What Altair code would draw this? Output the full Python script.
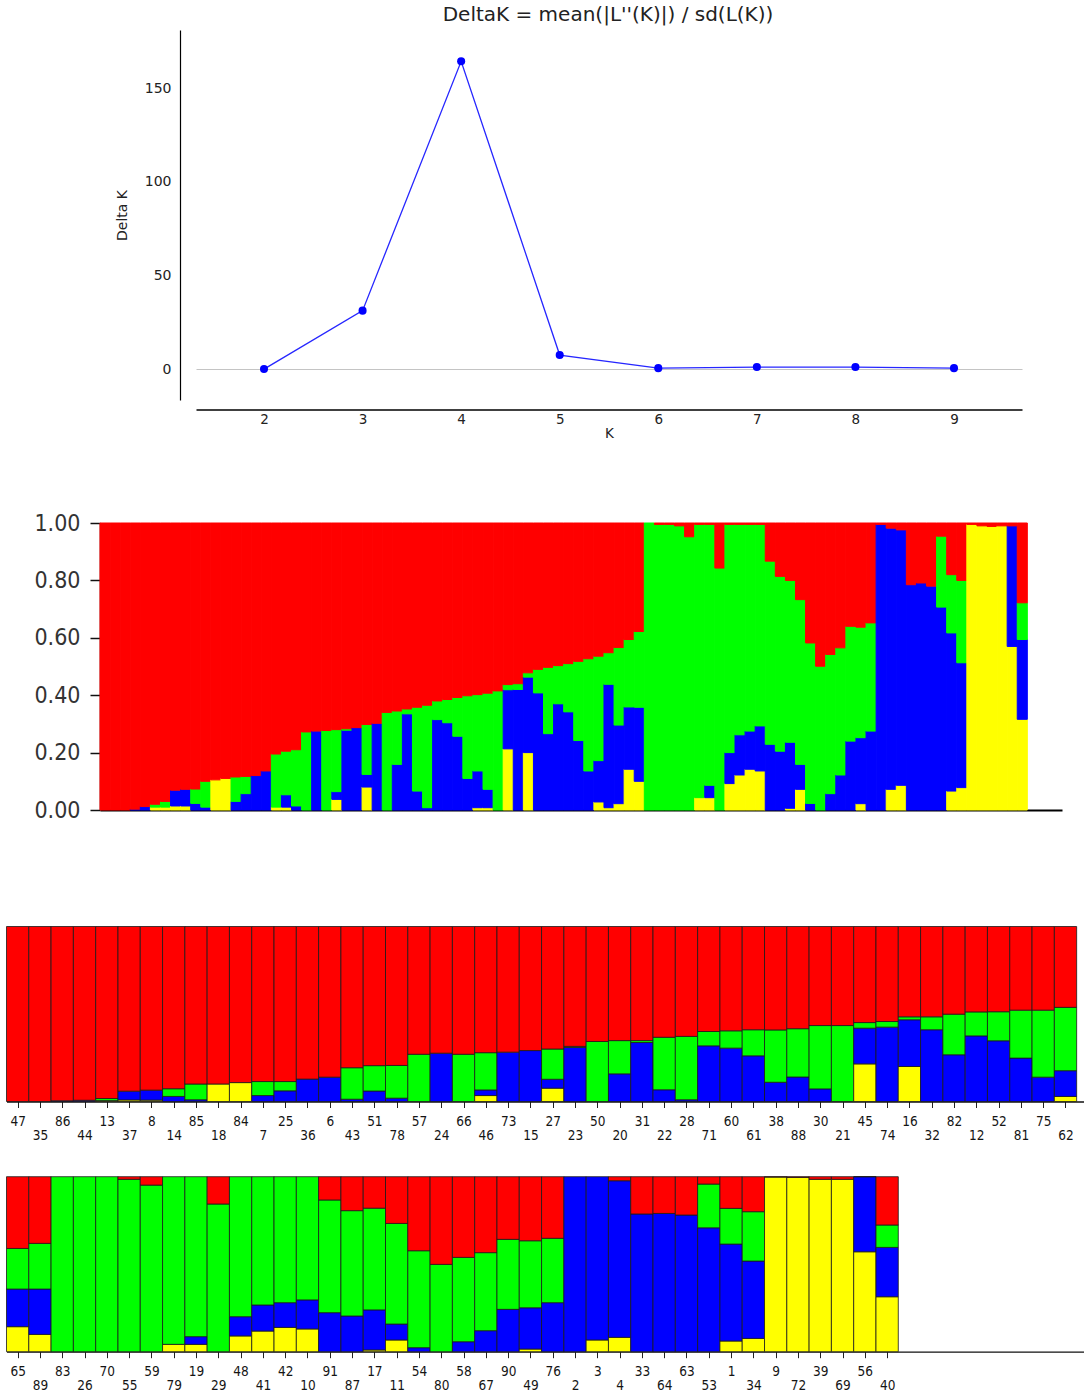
import altair as alt
import pandas as pd

# ---------------- Delta K panel ----------------
k_values = [2, 3, 4, 5, 6, 7, 8, 9]
delta_k = [0.0, 31.2, 164.3, 7.5, 0.5, 1.1, 1.1, 0.5]
title_text = "DeltaK = mean(|L''(K)|) / sd(L(K))"

# ---------------- sorted STRUCTURE bar plot (92 individuals) ----------------
mid_yellow = [0, 0, 0, 0, 0, 0.01, 0.01, 0.014, 0.014, 0,
              0, 0.105, 0.11, 0, 0, 0, 0, 0.01, 0.01, 0,
              0, 0, 0, 0.037, 0, 0, 0.08, 0, 0, 0,
              0, 0, 0, 0, 0, 0, 0, 0.008, 0.008, 0,
              0.213, 0, 0.2, 0, 0, 0, 0, 0, 0, 0.028,
              0.008, 0.022, 0.142, 0.1, 0, 0, 0, 0, 0, 0.043,
              0.043, 0, 0.092, 0.122, 0.142, 0.136, 0, 0, 0.006, 0.072,
              0, 0, 0, 0, 0, 0.022, 0, 0, 0.072, 0.086,
              0, 0, 0, 0, 0.066, 0.078, 0.995, 0.99, 0.988, 0.99,
              0.57, 0.316]
mid_blue = [0, 0, 0, 0.003, 0.012, 0, 0, 0.055, 0.058, 0.023,
            0.01, 0, 0, 0.03, 0.057, 0.12, 0.136, 0, 0.043, 0.014,
            0, 0.275, 0, 0.027, 0.278, 0.287, 0.044, 0.302, 0, 0.159,
            0.335, 0.066, 0.008, 0.315, 0.304, 0.257, 0.11, 0.128, 0.064, 0,
            0.206, 0.42, 0.263, 0.408, 0.266, 0.37, 0.342, 0.242, 0.136, 0.144,
            0.43, 0.274, 0.217, 0.258, 0, 0, 0, 0, 0, 0,
            0.043, 0, 0.108, 0.14, 0.133, 0.157, 0.229, 0.205, 0.23, 0.087,
            0.023, 0, 0.057, 0.122, 0.24, 0.23, 0.275, 0.995, 0.91, 0.89,
            0.785, 0.791, 0.78, 0.707, 0.551, 0.435, 0, 0, 0, 0,
            0.42, 0.278]
mid_green = [0, 0, 0, 0, 0, 0.01, 0.02, 0, 0, 0.05,
             0.09, 0, 0, 0.085, 0.06, 0, 0, 0.185, 0.152, 0.196,
             0.272, 0, 0.277, 0.216, 0.005, 0, 0.174, 0, 0.34, 0.186,
             0.017, 0.292, 0.357, 0.065, 0.081, 0.135, 0.288, 0.266, 0.335, 0.415,
             0.018, 0.02, 0.015, 0.082, 0.231, 0.133, 0.168, 0.276, 0.391, 0.364,
             0.11, 0.27, 0.235, 0.264, 1.0, 0.995, 0.995, 0.99, 0.952, 0.952,
             0.909, 0.843, 0.795, 0.733, 0.72, 0.702, 0.638, 0.609, 0.564, 0.574,
             0.559, 0.501, 0.485, 0.443, 0.4, 0.385, 0.377, 0, 0, 0,
             0, 0, 0, 0.247, 0.203, 0.287, 0, 0, 0, 0,
             0, 0.128]

# ---------------- labelled bar plot, row 1 ----------------
row1_labels = ["47", "35", "86", "44", "13", "37", "8", "14", "85", "18",
               "84", "7", "25", "36", "6", "43", "51", "78", "57", "24",
               "66", "46", "73", "15", "27", "23", "50", "20", "31", "22",
               "28", "71", "60", "61", "38", "88", "30", "21", "45", "74",
               "16", "32", "82", "12", "52", "81", "75", "62"]
row1_yellow = [0, 0, 0, 0, 0.005, 0.009, 0.008, 0, 0, 0.1,
               0.108, 0, 0, 0, 0, 0, 0, 0, 0, 0,
               0, 0.034, 0, 0, 0.076, 0, 0, 0, 0, 0,
               0, 0, 0, 0, 0, 0, 0, 0, 0.215, 0,
               0.2, 0, 0, 0, 0, 0, 0, 0.029]
row1_blue = [0, 0, 0.004, 0.007, 0, 0.05, 0.057, 0.029, 0.01, 0,
             0, 0.034, 0.061, 0.128, 0.139, 0.013, 0.06, 0.019, 0, 0.276,
             0, 0.032, 0.282, 0.291, 0.051, 0.309, 0, 0.158, 0.337, 0.067,
             0.01, 0.318, 0.305, 0.261, 0.11, 0.14, 0.072, 0, 0.204, 0.425,
             0.267, 0.41, 0.267, 0.375, 0.347, 0.248, 0.139, 0.147]
row1_green = [0, 0, 0, 0, 0.012, 0, 0, 0.044, 0.09, 0,
              0, 0.08, 0.053, 0, 0, 0.18, 0.145, 0.187, 0.27, 0,
              0.27, 0.213, 0, 0, 0.173, 0.006, 0.343, 0.19, 0.011, 0.3,
              0.362, 0.082, 0.099, 0.149, 0.299, 0.276, 0.362, 0.434, 0.032, 0.032,
              0.017, 0.074, 0.232, 0.137, 0.166, 0.274, 0.383, 0.362]

# ---------------- labelled bar plot, row 2 ----------------
row2_labels = ["65", "89", "83", "26", "70", "55", "59", "79", "19", "29",
               "48", "41", "42", "10", "91", "87", "17", "11", "54", "80",
               "58", "67", "90", "49", "76", "2", "3", "4", "33", "64",
               "63", "53", "1", "34", "9", "72", "39", "69", "56", "40"]
row2_yellow = [0.143, 0.099, 0, 0, 0, 0, 0, 0.042, 0.042, 0,
               0.09, 0.118, 0.139, 0.13, 0, 0, 0.01, 0.067, 0, 0,
               0, 0, 0, 0.015, 0, 0, 0.067, 0.082, 0, 0,
               0, 0, 0.061, 0.076, 0.998, 0.996, 0.985, 0.985, 0.571, 0.314]
row2_blue = [0.215, 0.259, 0, 0, 0, 0, 0, 0, 0.044, 0,
             0.11, 0.149, 0.141, 0.166, 0.223, 0.204, 0.229, 0.091, 0.023, 0,
             0.057, 0.12, 0.242, 0.236, 0.28, 1.0, 0.933, 0.895, 0.787, 0.79,
             0.781, 0.708, 0.554, 0.442, 0, 0, 0, 0, 0.429, 0.282]
row2_green = [0.232, 0.261, 1.0, 1.0, 1.0, 0.985, 0.952, 0.958, 0.914, 0.844,
              0.8, 0.733, 0.72, 0.704, 0.644, 0.602, 0.581, 0.575, 0.554, 0.499,
              0.482, 0.446, 0.4, 0.383, 0.368, 0, 0, 0, 0, 0,
              0, 0.25, 0.204, 0.282, 0, 0, 0, 0, 0, 0.128]

cluster_names = ["yellow", "blue", "green", "red"]
cluster_colors = ["#ffff00", "#0000ff", "#00ff00", "#ff0000"]
COLORS = alt.Scale(domain=cluster_names, range=cluster_colors)

NARROW = "'Liberation Sans Narrow', 'Arial Narrow', 'DejaVu Sans Condensed', sans-serif"
DEJAVU = "DejaVu Sans"
W = 1078


def stack(yel, blu, grn):
    recs = []
    for i, (a, b, c) in enumerate(zip(yel, blu, grn)):
        r = max(0.0, 1.0 - a - b - c)
        lo = 0.0
        for name, v in zip(cluster_names, (a, b, c, r)):
            if v > 0:
                hi = min(1.0, lo + v)
                recs.append({"i": i, "i2": i + 1, "cluster": name, "lo": lo, "hi": hi})
                lo = hi
    return pd.DataFrame(recs)


# ---------------- Chart A : Delta K ----------------
dk = pd.DataFrame({"K": k_values, "DeltaK": delta_k})
xA = alt.X("K:Q",
           scale=alt.Scale(domain=[1.31, 9.69], range=[190, 1016], nice=False, zero=False),
           axis=alt.Axis(values=k_values, title="K", offset=-45.5, ticks=False, tickSize=0,
                         grid=False, labelPadding=3, labelFlush=False,
                         domainColor="#000000", domainWidth=1.5,
                         labelFont=DEJAVU, labelFontSize=13.5, labelColor="#222222",
                         titleFont=DEJAVU, titleFontSize=13.5, titleFontWeight="normal",
                         titleColor="#222222", titlePadding=0))
yA = alt.Y("DeltaK:Q",
           scale=alt.Scale(domain=[-16.5, 181], range=[400, 30], nice=False, zero=False),
           axis=alt.Axis(values=[0, 50, 100, 150], title="Delta K", offset=-174,
                         ticks=False, tickSize=0, labelPadding=9,
                         grid=True, gridColor="#c4c4c4", gridWidth=1,
                         gridOpacity={"condition": {"test": "datum.value === 0", "value": 1}, "value": 0},
                         domainColor="#000000", domainWidth=1.2,
                         labelFont=DEJAVU, labelFontSize=14, labelColor="#222222",
                         titleFont=DEJAVU, titleFontSize=14, titleFontWeight="normal",
                         titleColor="#222222", titlePadding=15))
baseA = alt.Chart(dk).encode(x=xA, y=yA)
lineA = baseA.mark_line(color="#2626ff", strokeWidth=1.3)
ptsA = baseA.mark_point(filled=True, size=65, color="#0000ff", opacity=1)
chartA = alt.layer(lineA, ptsA).properties(
    width=W, height=455,
    title=alt.TitleParams(text=title_text, font=DEJAVU, fontSize=20, fontWeight="normal",
                          color="#222222", anchor="middle", dx=63, dy=41, offset=0,
                          baseline="alphabetic"))

# ---------------- Chart B : sorted bar plot ----------------
mid_df = stack(mid_yellow, mid_blue, mid_green)
chartB = alt.Chart(mid_df).mark_rect(strokeWidth=1.0).encode(
    x=alt.X("i:Q",
            scale=alt.Scale(domain=[0, 95.44], range=[94, 1056], nice=False, zero=False),
            axis=alt.Axis(title=None, labels=False, ticks=False, grid=False, offset=-70,
                          domainColor="#000000", domainWidth=2)),
    x2="i2:Q",
    y=alt.Y("lo:Q",
            scale=alt.Scale(domain=[0, 1], range=[355, 68], nice=False, zero=False),
            axis=alt.Axis(values=[0, 0.2, 0.4, 0.6, 0.8, 1.0], format=".2f", title=None,
                          offset=-94, grid=False, tickSize=10, tickColor="#111111",
                          tickWidth=1.5, domainColor="#111111", domainWidth=1.5,
                          labelFont=NARROW, labelFontSize=23, labelColor="#333333",
                          labelPadding=10)),
    y2="hi:Q",
    color=alt.Color("cluster:N", scale=COLORS, legend=None),
    stroke=alt.Stroke("cluster:N", scale=COLORS, legend=None),
).properties(width=W, height=425)


# ---------------- Charts C / D : labelled rows ----------------
def labelled_row(labels, yel, blu, grn, height, bottom, top):
    df = stack(yel, blu, grn)
    n = len(labels)
    arr = "[" + ",".join("'%s'" % s for s in labels) + "]"
    return alt.Chart(df).mark_rect(stroke="#1a1a1a", strokeWidth=0.8).encode(
        x=alt.X("i:Q",
                scale=alt.Scale(domain=[0, 48.33], range=[0.5, W], nice=False, zero=False),
                axis=alt.Axis(values=[k + 0.5 for k in range(n)],
                              labelExpr=arr + "[floor(datum.value)]",
                              title=None, grid=False, offset=-(height - bottom),
                              tickSize=6, tickColor="#222222", tickWidth=1,
                              labelBaseline="top", labelOverlap=False, labelFlush=False,
                              labelPadding={"condition": {"test": "floor(datum.value) % 2 == 1",
                                                          "value": 20.5}, "value": 6.5},
                              labelFont=NARROW, labelFontSize=13.5, labelColor="#151515",
                              domainColor="#111111", domainWidth=1.3)),
        x2="i2:Q",
        y=alt.Y("lo:Q", scale=alt.Scale(domain=[0, 1], range=[bottom, top], nice=False, zero=False),
                axis=None),
        y2="hi:Q",
        color=alt.Color("cluster:N", scale=COLORS, legend=None),
    ).properties(width=W, height=height)


chartC = labelled_row(row1_labels, row1_yellow, row1_blue, row1_green, 270, 221.5, 46.5)
chartD = labelled_row(row2_labels, row2_yellow, row2_blue, row2_green, 242, 201.7, 26.7)

chart = alt.vconcat(chartA, chartB, chartC, chartD, spacing=0).properties(
    padding={"left": 6, "top": 0, "right": 0, "bottom": 0},
    background="white",
).configure_view(stroke=None)

chart.save("out.html", embed_options={"renderer": "svg", "actions": False})
